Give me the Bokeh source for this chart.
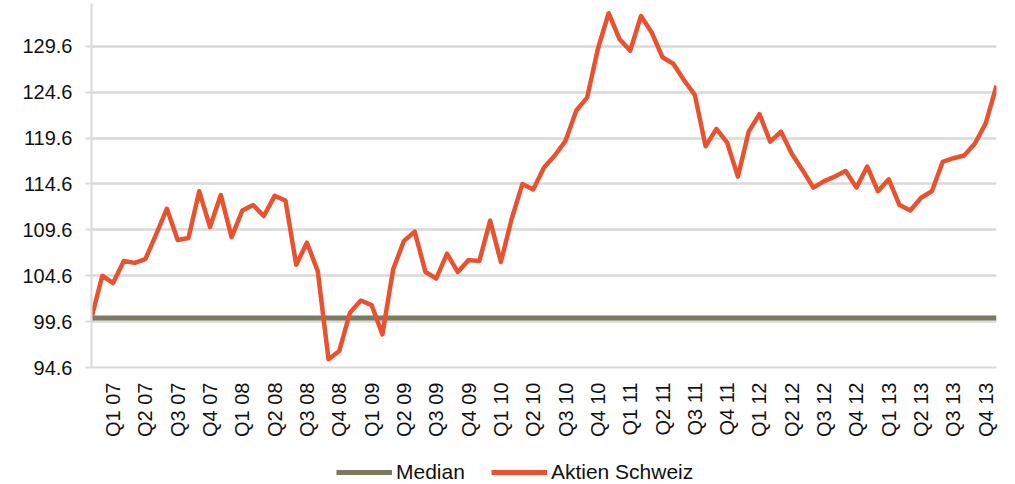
import math
from bokeh.plotting import figure
from bokeh.layouts import column
from bokeh.models import FixedTicker, Legend, LegendItem, PrintfTickFormatter, Range1d
from bokeh.embed import file_html
from bokeh.resources import INLINE

# monthly index, Dec 2006 .. Dec 2013 (85 points)
aktien_schweiz = [
    100.0, 104.6, 103.8, 106.2, 106.0, 106.4, 109.1, 111.9, 108.5, 108.7,
    113.8, 109.9, 113.4, 108.8, 111.7, 112.3, 111.1, 113.3, 112.8, 105.8,
    108.2, 105.1, 95.5, 96.4, 100.6, 101.9, 101.4, 98.2, 105.3, 108.4,
    109.4, 105.0, 104.3, 107.0, 105.0, 106.3, 106.2, 110.6, 106.1, 110.8,
    114.6, 114.0, 116.4, 117.7, 119.3, 122.6, 124.0, 129.3, 133.2, 130.4,
    129.1, 132.9, 131.1, 128.4, 127.7, 125.9, 124.3, 118.7, 120.6, 119.1,
    115.4, 120.3, 122.2, 119.2, 120.3, 117.9, 116.1, 114.2, 114.9, 115.4,
    116.0, 114.2, 116.5, 113.8, 115.1, 112.3, 111.7, 113.1, 113.8, 117.0,
    117.4, 117.7, 119.0, 121.2, 125.3,
]
median = [100.0] * len(aktien_schweiz)
months = list(range(len(aktien_schweiz)))

quarter_labels = [f"Q{q} {y:02d}" for y in range(7, 14) for q in range(1, 5)]
quarter_ticks = [2 + 3 * k for k in range(len(quarter_labels))]
y_ticks = [94.6, 99.6, 104.6, 109.6, 114.6, 119.6, 124.6, 129.6]

FONT = "Liberation Sans"
GRID = "#D9D9D9"
MED_COLOR = "#7A7B5E"
AKT_COLOR = "#E8522F"

p = figure(width=1015, height=445, output_backend="svg", toolbar_location=None,
           x_range=Range1d(0, 84), y_range=Range1d(94.6, 134.26),
           min_border_left=91, min_border_right=19, min_border_top=3,
           min_border_bottom=78)
p.outline_line_color = None
p.background_fill_color = "white"
p.border_fill_color = "white"

p.line(months, median, line_color=MED_COLOR, line_width=5)
p.line(months, aktien_schweiz, line_color=AKT_COLOR, line_width=4.5,
       line_join="round")

# axes
p.xaxis.ticker = FixedTicker(ticks=quarter_ticks)
p.xaxis.major_label_overrides = {t: l for t, l in zip(quarter_ticks, quarter_labels)}
p.xaxis.major_label_orientation = math.pi / 2
p.xaxis.major_tick_out = 0
p.xaxis.major_tick_in = 0
p.xaxis.minor_tick_line_color = None
p.xaxis.major_label_standoff = 15
p.xaxis.axis_line_color = GRID
p.xaxis.axis_line_width = 2

p.yaxis.ticker = FixedTicker(ticks=y_ticks)
p.yaxis.formatter = PrintfTickFormatter(format="%.1f")
p.yaxis.major_tick_out = 6
p.yaxis.major_tick_in = 0
p.yaxis.major_tick_line_color = GRID
p.yaxis.major_tick_line_width = 2
p.yaxis.minor_tick_line_color = None
p.yaxis.major_label_standoff = 13
p.yaxis.axis_line_color = GRID
p.yaxis.axis_line_width = 2

for ax in (p.xaxis, p.yaxis):
    ax.major_label_text_font = FONT
    ax.major_label_text_font_size = "20px"
    ax.major_label_text_color = "#111111"

p.xgrid.grid_line_color = None
p.ygrid.grid_line_color = GRID
p.ygrid.grid_line_width = 2.5

# legend strip below the chart (hidden copies of the series feed the legend)
lg = figure(width=1015, height=39, output_backend="svg", toolbar_location=None,
            x_range=Range1d(0, 84), y_range=Range1d(94.6, 134.26),
            min_border_left=91, min_border_right=19, min_border_top=0,
            min_border_bottom=0, x_axis_location=None, y_axis_location=None)
lg.outline_line_color = None
lg.grid.visible = False
lg_med = lg.line(months, median, line_color=MED_COLOR, line_width=5, visible=False)
lg_akt = lg.line(months, aktien_schweiz, line_color=AKT_COLOR, line_width=5,
                 visible=False)

legend = Legend(items=[LegendItem(label="Median", renderers=[lg_med]),
                       LegendItem(label="Aktien Schweiz", renderers=[lg_akt])],
                orientation="horizontal", location=(245, 0),
                glyph_width=56, glyph_height=22, label_height=22,
                label_standoff=4, spacing=26,
                padding=0, margin=0, border_line_alpha=0, background_fill_alpha=0,
                inactive_fill_alpha=0,
                label_text_font=FONT, label_text_font_size="21px",
                label_text_color="#111111")
lg.add_layout(legend, "center")

layout = column(p, lg, spacing=0)
open("out.html", "w").write(file_html(layout, INLINE))
